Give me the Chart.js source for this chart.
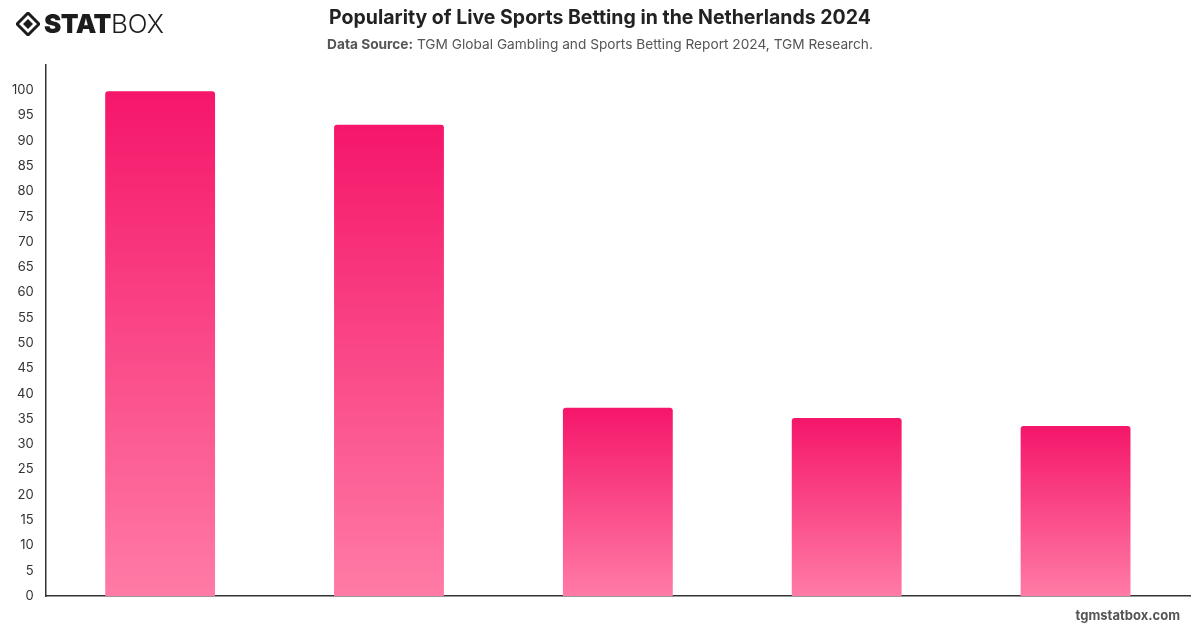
<!DOCTYPE html>
<html>
<head>
  <title>Popularity of Live Sports Betting in the Netherlands 2024</title>
  <script src="https://cdn.jsdelivr.net/npm/chart.js"></script>
  <style>
    body { margin: 0; font-family: Inter, "Noto Sans", sans-serif; background: #fff; }
    #wrap { position: relative; width: 1200px; height: 628px; }
    #chartBox { position: absolute; left: 0; top: 0; width: 1200px; height: 628px; }
    .logo { position: absolute; left: 16px; top: 8px; display: flex; align-items: center; }
    .logo .st { font-weight: 900; font-size: 26px; color: #1c1c1c; letter-spacing: -0.5px; margin-left: 4px; }
    .logo .bx { font-weight: 300; font-size: 26px; color: #1c1c1c; }
    .title { position: absolute; top: 5px; left: 0; width: 1200px; text-align: center;
             font-size: 19.5px; font-weight: 700; color: #222; }
    .sub { position: absolute; top: 36px; left: 0; width: 1200px; text-align: center;
           font-size: 13.7px; color: #555; }
    .sub b { font-weight: 700; }
    .foot { position: absolute; right: 20px; top: 607px; font-size: 13px; font-weight: 700; color: #555; }
  </style>
</head>
<body>
<div id="wrap">
  <div id="chartBox"><canvas id="bettingChart"></canvas></div>
  <div class="logo">
    <svg width="24" height="24" viewBox="0 0 24 24">
      <path d="M12 1 L23 12 L12 23 L1 12 Z" fill="none" stroke="#1c1c1c" stroke-width="3"/>
      <path d="M12 7 L17 12 L12 17 L7 12 Z" fill="#1c1c1c"/>
    </svg>
    <span class="st">STAT</span><span class="bx">BOX</span>
  </div>
  <div class="title">Popularity of Live Sports Betting in the Netherlands 2024</div>
  <div class="sub"><b>Data Source:</b> TGM Global Gambling and Sports Betting Report 2024, TGM Research.</div>
  <div class="foot">tgmstatbox.com</div>
</div>

<script>
  // bars carry no visible category names in the picture
  const categories = ["Category 1", "Category 2", "Category 3", "Category 4", "Category 5"];
  const popularity = [99.8, 93.2, 37.2, 35.2, 33.6];
  const yTicks = [0, 5, 10, 15, 20, 25, 30, 35, 40, 45, 50, 55, 60, 65, 70, 75, 80, 85, 90, 95, 100];

  function barGradient(ctx) {
    const chart = ctx.chart;
    const yScale = chart.scales.y;
    if (!yScale || ctx.raw === undefined) return "#f71b6b";
    const top = yScale.getPixelForValue(ctx.raw);
    const bottom = yScale.getPixelForValue(0);
    if (!isFinite(top) || !isFinite(bottom) || top === bottom) return "#f71b6b";
    const g = chart.ctx.createLinearGradient(0, top, 0, bottom);
    g.addColorStop(0, "#f5166a");
    g.addColorStop(1, "#ff7ba6");
    return g;
  }

  new Chart(document.getElementById("bettingChart"), {
    type: "bar",
    data: {
      labels: categories,
      datasets: [{
        label: "Popularity",
        data: popularity,
        backgroundColor: barGradient,
        borderRadius: { topLeft: 3, topRight: 3 },
        borderSkipped: false,
        barPercentage: 0.48,
        categoryPercentage: 1
      }]
    },
    options: {
      responsive: true,
      maintainAspectRatio: false,
      animation: false,
      layout: { padding: { top: 65, left: 0, right: 10, bottom: 32 } },
      plugins: {
        legend: { display: false },
        title: { display: false },
        tooltip: { enabled: true }
      },
      scales: {
        x: {
          grid: { display: false, drawTicks: false },
          border: { display: true, color: "#333", width: 1.5 },
          ticks: { display: false }
        },
        y: {
          min: 0,
          max: 105,
          afterBuildTicks: axis => { axis.ticks = yTicks.map(v => ({ value: v })); },
          grid: { display: false, drawTicks: false },
          border: { display: true, color: "#333", width: 1.5 },
          ticks: {
            color: "#333",
            padding: 12,
            font: { size: 13, family: "Inter, 'Noto Sans', sans-serif" }
          }
        }
      }
    }
  });
</script>
</body>
</html>
